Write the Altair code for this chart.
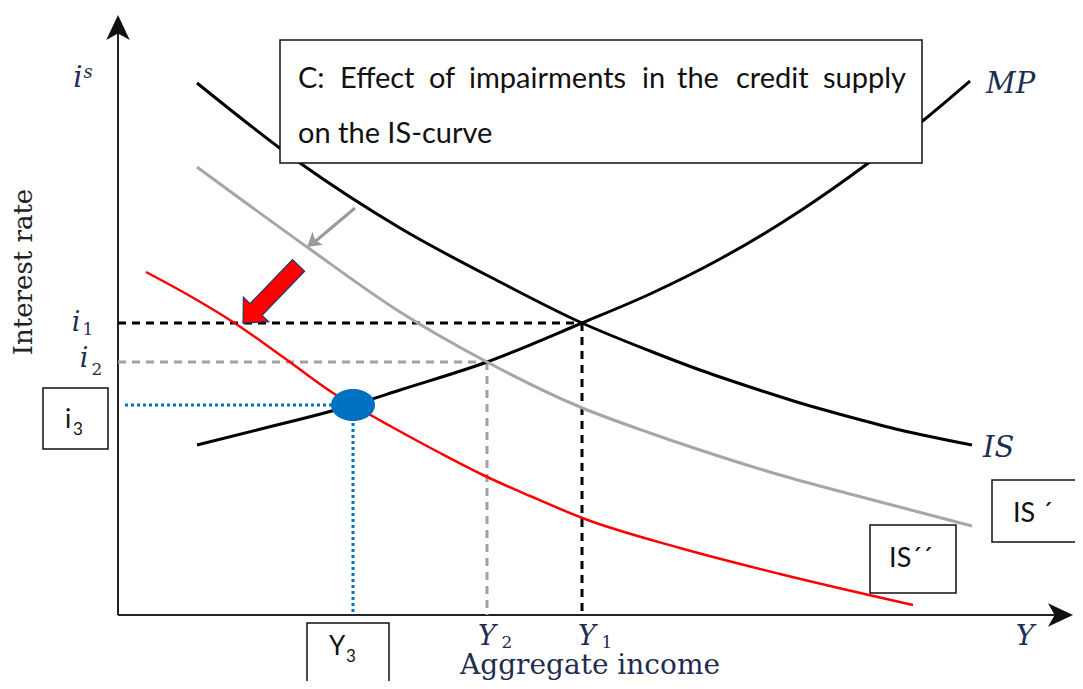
import altair as alt
import pandas as pd

# ---- coordinates: x = aggregate income units, y = interest-rate units (origin at axes crossing)
IS_X = [79, 182, 282, 382, 464, 532, 582, 632, 682, 732, 782, 854]
IS_Y = [532, 452, 387, 333, 292, 264, 245, 228, 212, 198, 185, 170]

ISP_X = [79, 189, 282, 369, 462, 532, 582, 662, 732, 812, 854]
ISP_Y = [448, 368, 303, 253, 208, 182, 165, 140, 121, 100, 89]

ISPP_X = [28, 72, 115, 165, 215, 235, 274, 322, 365, 412, 467, 562, 662, 795]
ISPP_Y = [343, 319, 293, 258, 222, 210, 188, 162, 140, 119, 96, 67, 41, 10]

MP_X = [79, 139, 235, 282, 369, 464, 532, 602, 682, 749, 807, 852]
MP_Y = [170, 185, 210, 225, 253, 292, 321, 356, 404, 451, 496, 534]

# equilibria: (Y1, i1), (Y2, i2), (Y3, i3)
EQ_X = [464, 369, 235]
EQ_Y = [292, 253, 210]

TITLE_WORDS = ["C:", "Effect", "of", "impairments", "in", "the", "credit", "supply"]
TITLE_WORD_X = [180, 222, 311, 351, 524, 559, 618, 705]
TITLE_LINE2 = "on the IS-curve"

XDOM = [-110, 957]
YDOM = [-66, 607]


def X(field="x"):
    return alt.X(f"{field}:Q", scale=alt.Scale(domain=XDOM, nice=False, zero=False), axis=None)


def Y(field="y"):
    return alt.Y(f"{field}:Q", scale=alt.Scale(domain=YDOM, nice=False, zero=False), axis=None)


def curve(xs, ys, color, width):
    df = pd.DataFrame({"x": xs, "y": ys})
    return alt.Chart(df).mark_line(color=color, strokeWidth=width, interpolate="monotone").encode(
        x=X(), y=Y()
    )


def rules(rows, **kw):
    df = pd.DataFrame(rows, columns=["x", "y", "x2", "y2"])
    return alt.Chart(df).mark_rule(**kw).encode(x=X(), y=Y(), x2="x2:Q", y2="y2:Q")


def texts(rows, **kw):
    df = pd.DataFrame(rows, columns=["x", "y", "t"])
    return alt.Chart(df).mark_text(**kw).encode(x=X(), y=Y(), text="t:N")


def boxes(rows, **kw):
    df = pd.DataFrame(rows, columns=["x", "y", "x2", "y2"])
    return alt.Chart(df).mark_rect(**kw).encode(x=X(), y=Y(), x2="x2:Q", y2="y2:Q")


layers = []

# axes
layers.append(rules([[0, 0, 0, 590], [0, 0, 945, 0]], color="#222222", strokeWidth=2))
ARROW = "M0,0L0.8,1.7L0,1.25L-0.8,1.7Z"
ax_heads = pd.DataFrame({"x": [0, 955], "y": [600, 0], "a": [0, 90]})
layers.append(
    alt.Chart(ax_heads)
    .mark_point(shape=ARROW, filled=True, color="#111111", size=865, opacity=1)
    .encode(x=X(), y=Y(), angle=alt.Angle("a:Q", scale=None))
)

# guide lines
y1x, y2x, y3x = EQ_X
i1y, i2y, i3y = EQ_Y
layers.append(rules([[0, i1y, y1x, i1y], [y1x, i1y, y1x, 0]], color="#000000", strokeWidth=3, strokeDash=[8, 6]))
layers.append(rules([[0, i2y, y2x, i2y], [y2x, i2y, y2x, 0]], color="#a0a0a0", strokeWidth=3, strokeDash=[8, 6]))
layers.append(rules([[7, i3y, y3x, i3y], [y3x, i3y, y3x, 3]], color="#0070c0", strokeWidth=3, strokeDash=[3, 3]))

# curves
layers.append(curve(MP_X, MP_Y, "#000000", 3))
layers.append(curve(IS_X, IS_Y, "#000000", 3))
layers.append(curve(ISP_X, ISP_Y, "#a6a6a6", 3))
layers.append(curve(ISPP_X, ISPP_Y, "#ff0000", 2.5))

# gray shift arrow
layers.append(rules([[237, 407, 193, 370]], color="#9a9a9a", strokeWidth=3))
g_head = pd.DataFrame({"x": [189], "y": [368], "a": [231]})
layers.append(
    alt.Chart(g_head)
    .mark_point(shape="M0,0L0.6,1L0,0.75L-0.6,1Z", filled=True, color="#9a9a9a", size=784, opacity=1)
    .encode(x=X(), y=Y(), angle=alt.Angle("a:Q", scale=None))
)

# red block arrow
r_arrow = pd.DataFrame({"x": [125], "y": [292], "a": [224]})
layers.append(
    alt.Chart(r_arrow)
    .mark_point(
        shape="M0,0L0.44,0.47L0.21,0.47L0.21,2L-0.21,2L-0.21,0.47L-0.44,0.47Z",
        filled=True, fill="#ff0000", stroke="#203864", strokeWidth=1.2, size=6400, opacity=1,
    )
    .encode(x=X(), y=Y(), angle=alt.Angle("a:Q", scale=None))
)

# blue equilibrium point
eq3 = pd.DataFrame({"x": [y3x], "y": [i3y]})
layers.append(
    alt.Chart(eq3)
    .mark_point(shape="M-1,0A1,0.73,0,1,1,1,0A1,0.73,0,1,1,-1,0Z", filled=True, color="#0070c0",
                size=1936, opacity=1)
    .encode(x=X(), y=Y())
)

# boxes
layers.append(boxes([[162, 575, 804, 452]], fill="white", stroke="#111111", strokeWidth=1.5))
layers.append(boxes([[-75, 227, -10, 166], [189, -8, 271, -68], [874, 135, 975, 73], [752, 90, 838, 22]],
                    fill="white", stroke="#111111", strokeWidth=1.5))

NAVY = "#1f2d50"
MATH = "DejaVu Serif"

# box texts
words = pd.DataFrame({"x": TITLE_WORD_X, "y": [527] * len(TITLE_WORDS), "t": TITLE_WORDS})
layers.append(
    alt.Chart(words).mark_text(font="Lato", fontSize=29, align="left", baseline="alphabetic", color="#111111")
    .encode(x=X(), y=Y(), text="t:N")
)
layers.append(texts([[180, 472, TITLE_LINE2]],
                    font="Lato", fontSize=29, align="left", baseline="alphabetic", color="#111111"))
layers.append(texts([[-50, 187, "i"], [219, -40, "Y"]], font="Lato", fontSize=26, align="center",
                    baseline="alphabetic", color="#111111"))
layers.append(texts([[-40, 180, "3"], [233, -47, "3"]], font="Lato", fontSize=17, align="center",
                    baseline="alphabetic", color="#111111"))
layers.append(texts([[793, 48, "IS´´"]], font="Lato", fontSize=27, align="center", baseline="alphabetic",
                    color="#111111"))
layers.append(texts([[895, 93, "IS ´"]], font="Lato", fontSize=27, align="left", baseline="alphabetic",
                    color="#111111"))

# math labels
layers.append(texts([[-40, 528, "i"]], font=MATH, fontStyle="italic", fontSize=29, align="center",
                    baseline="alphabetic", color=NAVY))
layers.append(texts([[-42, 284, "i"], [-34, 248, "i"], [369, -30, "Y"], [469, -30, "Y"]],
                    font=MATH, fontStyle="italic", fontSize=27, align="center", baseline="alphabetic",
                    color=NAVY))
layers.append(texts([[-30, 537, "s"]], font=MATH, fontStyle="italic", fontSize=18, align="center",
                    baseline="alphabetic", color=NAVY))
layers.append(texts([[-30, 280, "1"], [-21, 240, "2"], [389, -33, "2"], [489, -33, "1"]],
                    font=MATH, fontSize=17, align="center", baseline="alphabetic", color=NAVY))
layers.append(texts([[868, 522, "MP"], [865, 158, "IS"]], font=MATH, fontStyle="italic", fontSize=29,
                    align="left", baseline="alphabetic", color=NAVY))
layers.append(texts([[907, -30, "Y"]], font=MATH, fontStyle="italic", fontSize=28, align="center",
                    baseline="alphabetic", color=NAVY))

# axis titles
layers.append(texts([[472, -59, "Aggregate income"]], font="DejaVu Serif", fontSize=28, align="center",
                    baseline="alphabetic", color=NAVY))
layers.append(texts([[-94, 343, "Interest rate"]], font="DejaVu Serif", fontSize=26, align="center",
                    baseline="middle", angle=270, color="#222222"))

chart = (
    alt.layer(*layers)
    .properties(width=1067, height=673, padding=0, autosize=alt.AutoSizeParams(type="none"))
    .configure_view(stroke=None)
)

chart.save("out.html", embed_options={"renderer": "svg", "actions": False})
